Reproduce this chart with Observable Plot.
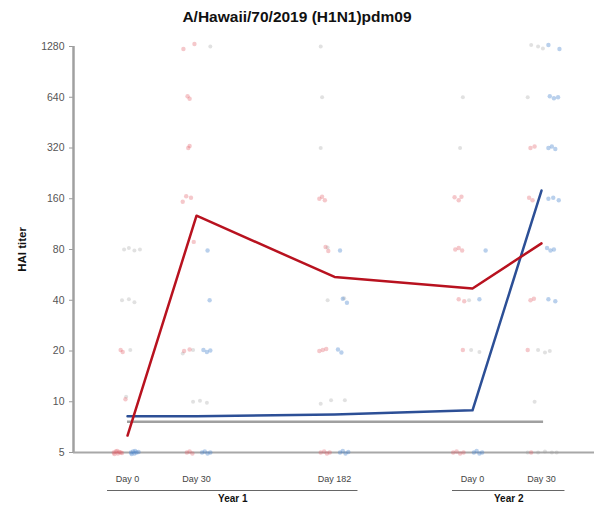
<!DOCTYPE html>
<html><head><meta charset="utf-8">
<script src="https://cdn.jsdelivr.net/npm/d3@7"></script>
<script src="https://cdn.jsdelivr.net/npm/@observablehq/plot@0.6"></script>
<style>
body{margin:0;background:#fff;font-family:"Liberation Sans",Arial,sans-serif;}
#title{height:32px;line-height:34px;text-align:center;font-weight:bold;font-size:15.5px;color:#111;}
</style></head><body>
<div id="title">A/Hawaii/70/2019 (H1N1)pdm09</div>
<div id="chart"></div>
<script>
// timepoints
const timeLabels = ["Day 0", "Day 30", "Day 182", "Day 0", "Day 30"];
const timePos = [0, 1, 3, 5, 6];
const years = ["Year 1", "Year 2"];
const yearFirst = [0, 3];   // index of first timepoint in year
const yearLast = [2, 4];    // index of last timepoint in year
const yTicks = [5, 10, 20, 40, 80, 160, 320, 640, 1280];

// geometric mean titer lines
const redGMT = [6.3, 127, 55, 47, 87];
const blueGMT = [8.2, 8.2, 8.4, 8.9, 179];
const refLevel = 7.6;

// individual points: [timepoint index, titer, x jitter, y jitter (doublings)]
const redPts = [
  [0,5,-0.2,0],[0,5,-0.17,0.02],[0,5,-0.14,-0.02],[0,5,-0.12,0.01],[0,5,-0.1,0],[0,5,-0.19,-0.03],[0,5,-0.15,0.03],[0,5,-0.08,-0.01],
  [0,20,-0.1,0.02],[0,20,-0.07,-0.02],[0,10,-0.03,0.05],
  [1,1280,-0.19,-0.05],[1,1280,-0.03,0.05],[1,640,-0.13,0.02],[1,640,-0.1,-0.03],
  [1,320,-0.12,0],[1,320,-0.1,0.04],[1,160,-0.2,-0.06],[1,160,-0.15,0.05],[1,160,-0.08,0.02],
  [1,80,-0.04,0.15],[1,20,-0.18,0],[1,20,-0.1,0.03],[1,5,-0.14,0],[1,5,-0.1,0.02],[1,5,-0.06,-0.02],
  [2,160,-0.22,0],[2,160,-0.18,0.04],[2,160,-0.14,-0.03],[2,80,-0.13,0.05],[2,80,-0.09,-0.03],
  [2,20,-0.22,0],[2,20,-0.17,0.02],[2,20,-0.12,0.04],[2,5,-0.2,0],[2,5,-0.15,0.02],[2,5,-0.11,-0.02],[2,5,-0.07,0],
  [3,160,-0.26,0.03],[3,160,-0.2,-0.03],[3,160,-0.16,0.04],[3,80,-0.25,0],[3,80,-0.2,0.03],[3,80,-0.15,-0.02],
  [3,40,-0.2,0.02],[3,40,-0.12,-0.02],[3,20,-0.14,0.02],[3,5,-0.28,0],[3,5,-0.23,0.02],[3,5,-0.18,-0.02],[3,5,-0.13,0],
  [4,320,-0.16,0],[4,320,-0.1,0.03],[4,160,-0.18,0.02],[4,160,-0.13,-0.03],[4,40,-0.16,0],[4,40,-0.11,0.03],
  [4,20,-0.2,0.02],[4,5,-0.15,0]
];
const bluePts = [
  [0,5,0.05,0],[0,5,0.08,0.02],[0,5,0.1,-0.02],[0,5,0.13,0],[0,5,0.16,0.01],[0,5,0.06,-0.03],[0,5,0.11,0.03],
  [1,80,0.16,-0.02],[1,40,0.19,0],[1,20,0.1,0.02],[1,20,0.15,-0.02],[1,20,0.2,0.01],
  [1,5,0.08,0],[1,5,0.12,0.02],[1,5,0.16,-0.02],[1,5,0.2,0],
  [2,80,0.08,-0.02],[2,40,0.12,0.03],[2,40,0.18,-0.05],[2,20,0.05,0.03],[2,20,0.1,-0.03],
  [2,5,0.08,0],[2,5,0.12,0.03],[2,5,0.16,-0.02],[2,5,0.2,0.01],
  [3,80,0.19,-0.02],[3,40,0.1,0.02],[3,5,0.02,0],[3,5,0.06,0.03],[3,5,0.1,-0.02],[3,5,0.14,0],
  [4,1280,0.1,0.03],[4,1280,0.26,-0.05],[4,640,0.12,0.02],[4,640,0.18,-0.02],[4,640,0.24,0],
  [4,320,0.1,0],[4,320,0.15,0.03],[4,320,0.2,-0.02],[4,160,0.1,0],[4,160,0.17,0.02],[4,160,0.25,-0.03],
  [4,80,0.08,0.03],[4,80,0.13,-0.02],[4,80,0.18,0],[4,40,0.1,0.02],[4,40,0.2,-0.02]
];
const grayPts = [
  [0,80,-0.05,0],[0,80,0.02,0.03],[0,80,0.1,-0.02],[0,80,0.18,0],[0,40,-0.08,0],[0,40,0.02,0.02],[0,40,0.1,-0.04],
  [0,20,0.04,0.02],[0,10,-0.02,0.1],
  [1,1280,0.2,0],[1,10,-0.05,0],[1,10,0.05,0.02],[1,10,0.15,-0.02],[1,20,-0.2,-0.05],[1,20,-0.05,0.02],
  [2,1280,-0.2,0],[2,640,-0.18,0],[2,320,-0.2,0],[2,40,-0.1,0],[2,40,0.14,0.04],
  [2,10,-0.2,-0.04],[2,10,-0.05,0.03],[2,10,0.15,0.03],[2,80,-0.1,0.04],
  [3,640,-0.14,0],[3,320,-0.18,0],[3,40,-0.05,0],[3,20,-0.02,0.02],[3,20,0.1,-0.02],
  [4,1280,-0.15,0.03],[4,1280,-0.05,0],[4,1280,0.02,-0.04],[4,640,-0.2,0],
  [4,20,-0.05,0.02],[4,20,0.05,-0.03],[4,20,0.12,0],[4,10,-0.1,0],
  [4,5,-0.2,0],[4,5,-0.05,0],[4,5,0.05,0.02],[4,5,0.15,0],[4,5,0.22,0]
];

const toRows = pts => pts.map(([t, v, jx, jy]) => ({x: timePos[t] + jx, y: v * Math.pow(2, jy)}));
const gmtRows = arr => arr.map((v, i) => ({x: timePos[i], y: v}));
const ticksRows = timeLabels.map((l, i) => ({x: timePos[i], label: l}));
const yearRows = years.map((y, i) => {
  const x1 = timePos[yearFirst[i]] - 0.29, x2 = timePos[yearLast[i]] + 0.34;
  return {label: y, x1, x2, xm: (x1 + x2) / 2};
});

const chart = Plot.plot({
  width: 594,
  height: 473,
  marginLeft: 73,
  marginRight: 0,
  marginTop: 14,
  marginBottom: 53,
  style: {fontFamily: "'Liberation Sans', Arial, sans-serif", background: "#fff"},
  x: {domain: [-0.783, 6.768], axis: null},
  y: {type: "log", base: 2, domain: [5, 1280]},
  marks: [
    Plot.axisY({ticks: yTicks, tickFormat: d => String(d), tickSize: 4, tickPadding: 5, fontSize: 10.5,
      stroke: "#9a9a9a", color: "#555", label: null}),
    Plot.text(["HAI titer"], {frameAnchor: "left", textAnchor: "middle", dx: -51, rotate: -90, fontSize: 11.5, fontWeight: "bold", fill: "#111"}),
    Plot.ruleX([-0.783], {y1: 5, y2: 1280, stroke: "#a0a0a0", strokeWidth: 2.5}),
    Plot.ruleY([5], {stroke: "#a8a8a8", strokeWidth: 2}),
    Plot.ruleY([refLevel], {x1: timePos[0], x2: timePos[4] + 0.03, stroke: "#a0a0a0", strokeWidth: 2.5}),
    Plot.dot(toRows(grayPts), {x: "x", y: "y", r: 2, fill: "#9a9a9a", fillOpacity: 0.3, stroke: "none"}),
    Plot.dot(toRows(redPts), {x: "x", y: "y", r: 2.2, fill: "#e2606b", fillOpacity: 0.35, stroke: "none"}),
    Plot.dot(toRows(bluePts), {x: "x", y: "y", r: 2.2, fill: "#4f8ad0", fillOpacity: 0.4, stroke: "none"}),
    Plot.line(gmtRows(blueGMT), {x: "x", y: "y", stroke: "#2c4f96", strokeWidth: 2.5}),
    Plot.line(gmtRows(redGMT), {x: "x", y: "y", stroke: "#b8121f", strokeWidth: 2.5}),
    Plot.text(ticksRows, {x: "x", y: () => 5, text: "label", dy: 27, fontSize: 9, fill: "#444"}),
    Plot.ruleY(yearRows, {y: () => 5, x1: "x1", x2: "x2", dy: 38, stroke: "#666", strokeWidth: 1.2}),
    Plot.text(yearRows, {x: "xm", y: () => 5, text: "label", dy: 46, fontSize: 10, fontWeight: "bold", fill: "#111"})
  ]
});
document.getElementById("chart").appendChild(chart);
</script>
</body></html>
